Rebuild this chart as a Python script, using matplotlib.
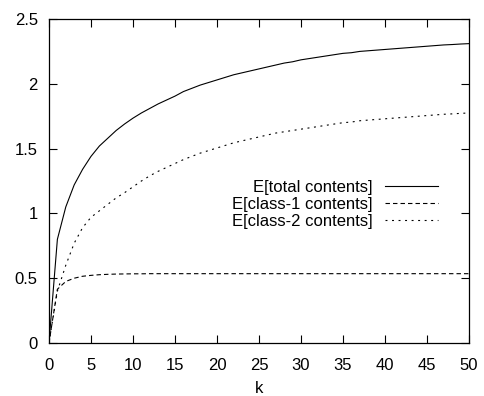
import numpy as np
import matplotlib
matplotlib.use("Agg")
import matplotlib.pyplot as plt

# ============================================================
# DATA (one value per integer k)
# ============================================================
k = list(range(0, 51))

total = [0.0, 0.80, 1.05, 1.22, 1.34, 1.44, 1.52, 1.58, 1.64, 1.69,
         1.735, 1.775, 1.81, 1.845, 1.875, 1.905, 1.94, 1.965, 1.99, 2.01,
         2.03, 2.05, 2.07, 2.085, 2.10, 2.115, 2.13, 2.145, 2.16, 2.17,
         2.185, 2.195, 2.205, 2.215, 2.225, 2.235, 2.24, 2.25, 2.255, 2.26,
         2.265, 2.27, 2.275, 2.28, 2.285, 2.29, 2.295, 2.30, 2.303, 2.307,
         2.31]

class1 = [0.0, 0.415, 0.475, 0.50, 0.515, 0.522, 0.527, 0.53, 0.532, 0.533,
          0.534, 0.534, 0.535, 0.535, 0.535, 0.535, 0.535, 0.535, 0.535, 0.535,
          0.535, 0.535, 0.535, 0.535, 0.535, 0.535, 0.535, 0.535, 0.535, 0.535,
          0.535, 0.535, 0.535, 0.535, 0.535, 0.535, 0.535, 0.535, 0.535, 0.535,
          0.535, 0.535, 0.535, 0.535, 0.535, 0.535, 0.535, 0.535, 0.535, 0.535,
          0.535]

class2 = [0.0, 0.40, 0.60, 0.77, 0.89, 0.97, 1.02, 1.07, 1.12, 1.16,
          1.205, 1.25, 1.29, 1.325, 1.355, 1.385, 1.415, 1.44, 1.465, 1.485,
          1.505, 1.525, 1.545, 1.56, 1.575, 1.59, 1.605, 1.62, 1.63, 1.64,
          1.65, 1.66, 1.67, 1.68, 1.69, 1.70, 1.705, 1.715, 1.72, 1.725,
          1.73, 1.735, 1.74, 1.745, 1.75, 1.755, 1.76, 1.765, 1.768, 1.772,
          1.775]

labels = ["E[total contents]", "E[class-1 contents]", "E[class-2 contents]"]

xticks = [0, 5, 10, 15, 20, 25, 30, 35, 40, 45, 50]
yticks = [0, 0.5, 1, 1.5, 2, 2.5]
ytick_labels = ["0", "0.5", "1", "1.5", "2", "2.5"]

# ============================================================
# PLOT (gnuplot-like look)
# ============================================================
plt.rcParams["font.family"] = ["Liberation Sans", "DejaVu Sans"]
plt.rcParams["font.size"] = 12
plt.rcParams["lines.scale_dashes"] = False

fig = plt.figure(figsize=(4.84, 3.96), dpi=100)
ax = fig.add_axes([0.1012, 0.1338, 0.8678, 0.8182])

ax.plot(k, total, color="black", lw=0.8, label=labels[0])
ax.plot(k, class1, color="black", lw=0.8, linestyle=(0, (3.2, 2.2)),
        label=labels[1])
ax.plot(k, class2, color="black", lw=0.8, linestyle=(0, (1.4, 3.3)),
        label=labels[2])

ax.set_xlim(0, 50)
ax.set_ylim(0, 2.5)
ax.set_xticks(xticks)
ax.set_yticks(yticks)
ax.set_yticklabels(ytick_labels)
ax.tick_params(direction="in", length=5.8, width=0.8, top=True, right=True)
ax.tick_params(axis="x", pad=10.5)
ax.tick_params(axis="y", pad=8)
for sp in ax.spines.values():
    sp.set_linewidth(0.9)

ax.set_xlabel("k", labelpad=6)

ax.legend(loc="center right", bbox_to_anchor=(0.926, 0.429),
          markerfirst=False, frameon=False, handlelength=3.2,
          handletextpad=0.7, labelspacing=0.12, borderpad=0,
          borderaxespad=0, fontsize=12)

plt.savefig("out.png", dpi=100)
